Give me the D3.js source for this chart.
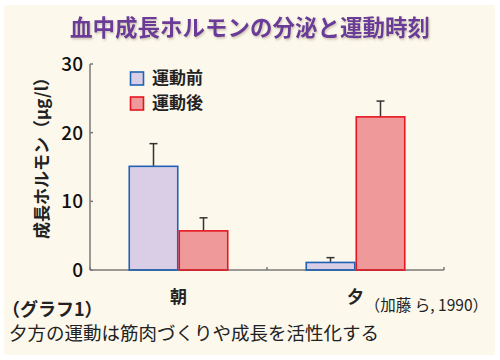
<!DOCTYPE html>
<html><head><meta charset="utf-8">
<script src="https://cdn.jsdelivr.net/npm/d3@7/dist/d3.min.js"></script>
<style>
body{margin:0;background:#fff;}
svg{display:block;}
text{font-family:"Noto Sans CJK JP","Noto Sans",sans-serif;}
</style></head><body>
<svg id="c" width="500" height="360"></svg>
<script>
const categories = ["朝", "夕"];
const seriesNames = ["運動前", "運動後"];
const before = [15.1, 1.1];
const after = [5.7, 22.3];
const beforeErr = [3.3, 0.7];
const afterErr = [1.9, 2.3];
const yTicks = [0, 10, 20, 30];

const svg = d3.select("#c");
svg.append("rect").attr("x",4).attr("y",5).attr("width",491).attr("height",350).attr("fill","#fcf8ec");

const defs = svg.append("defs");
const f = defs.append("filter").attr("id","sh").attr("x","-5%").attr("y","-20%").attr("width","110%").attr("height","150%");
f.append("feDropShadow").attr("dx",1).attr("dy",1.5).attr("stdDeviation",1).attr("flood-color","#b9ae96").attr("flood-opacity",0.7);

svg.append("text").attr("x",250).attr("y",36).attr("text-anchor","middle")
  .attr("font-size",22.5).attr("font-weight","bold").attr("fill","#6b3a98").attr("filter","url(#sh)")
  .text("血中成長ホルモンの分泌と運動時刻");

const x = d3.scaleBand().domain(categories).range([90,444]);
const y = d3.scaleLinear().domain([0,30]).range([270,64]);
const sub = d3.scaleBand().domain(seriesNames).range([0,100]);

const fills = ["#dacde6","#f0999b"];
const strokes = ["#1f63b6","#e5161f"];

const data = categories.map((c,i)=>({c, vals:[before[i],after[i]], errs:[beforeErr[i],afterErr[i]]}));

const g = svg.append("g");
data.forEach(d=>{
  const x0 = x(d.c) + x.bandwidth()/2 - 50;
  d.vals.forEach((v,j)=>{
    const bx = x0 + sub(seriesNames[j]);
    const cx = bx + sub.bandwidth()/2;
    g.append("line").attr("x1",cx).attr("x2",cx).attr("y1",y(v)).attr("y2",y(v+d.errs[j])).attr("stroke","#333").attr("stroke-width",1.5);
    g.append("line").attr("x1",cx-4).attr("x2",cx+4).attr("y1",y(v+d.errs[j])).attr("y2",y(v+d.errs[j])).attr("stroke","#333").attr("stroke-width",1.5);
    g.append("rect").attr("x",bx+0.75).attr("y",y(v)).attr("width",sub.bandwidth()-1.5).attr("height",y(0)-y(v))
      .attr("fill",fills[j]).attr("stroke",strokes[j]).attr("stroke-width",1.6);
  });
});

const ax = svg.append("g").attr("stroke","#7a7a7a").attr("stroke-width",1.5).attr("fill","none");
ax.append("line").attr("x1",90).attr("x2",90).attr("y1",y(30)).attr("y2",y(0));
ax.append("line").attr("x1",90).attr("x2",444).attr("y1",y(0)).attr("y2",y(0));
yTicks.forEach(t=>{ ax.append("line").attr("x1",90).attr("x2",93).attr("y1",y(t)).attr("y2",y(t)); });
[90, 267, 444].forEach(px=>{ ax.append("line").attr("x1",px).attr("x2",px).attr("y1",y(0)).attr("y2",y(0)-3); });
data.forEach(d=>{
  const x0 = x(d.c) + x.bandwidth()/2 - 50;
  d.vals.forEach((v,j)=>{
    const bx = x0 + sub(seriesNames[j]);
    svg.append("line").attr("x1",bx).attr("x2",bx+sub.bandwidth()).attr("y1",y(0)).attr("y2",y(0)).attr("stroke",strokes[j]).attr("stroke-width",1.6);
  });
});

svg.selectAll(".yt").data(yTicks).enter().append("text")
  .attr("x",83).attr("y",t=>y(t)+7).attr("text-anchor","end").attr("font-size",19).attr("fill","#111")
  .attr("font-family","Roboto, 'Liberation Sans', sans-serif").attr("font-weight",500).text(t=>t);

svg.append("text").attr("transform","translate(48,154) rotate(-90)").attr("text-anchor","middle")
  .attr("font-size",17).attr("font-weight","bold").attr("fill","#222").text("成長ホルモン（μg/l）");

seriesNames.forEach((s,i)=>{
  const ly = 72 + i*25;
  svg.append("rect").attr("x",130.5).attr("y",ly).attr("width",13).attr("height",13)
    .attr("fill",fills[i]).attr("stroke",strokes[i]).attr("stroke-width",1.6);
  svg.append("text").attr("x",152).attr("y",ly+12).attr("font-size",17).attr("font-weight","bold").attr("fill","#222").text(s);
});

categories.forEach(c=>{
  svg.append("text").attr("x",x(c)+x.bandwidth()/2).attr("y",303).attr("text-anchor","middle")
    .attr("font-size",17).attr("font-weight","bold").attr("fill","#222").text(c);
});

svg.append("text").attr("x",2).attr("y",316).attr("font-size",18).attr("font-weight","bold").attr("fill","#222").text("（グラフ1）");
svg.append("text").attr("x",488).attr("y",311).attr("text-anchor","end").attr("font-size",15.5).attr("fill","#222").text("（加藤 ら, 1990）");
svg.append("text").attr("x",9).attr("y",340).attr("font-size",18.5).attr("fill","#222").text("夕方の運動は筋肉づくりや成長を活性化する");
</script>
</body></html>
